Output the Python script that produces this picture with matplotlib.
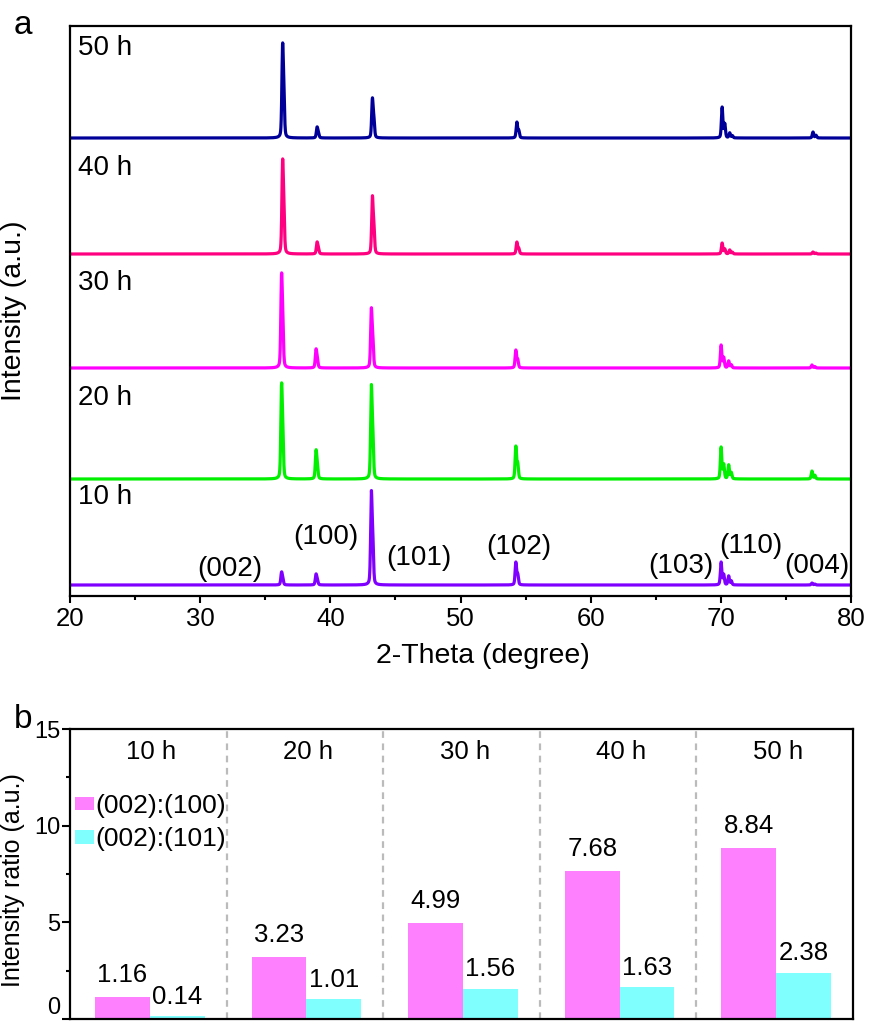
import numpy as np
import matplotlib
matplotlib.use("Agg")
import matplotlib.pyplot as plt

plt.rcParams['font.family'] = ['Liberation Sans', 'DejaVu Sans']

# ---------------- XRD patterns (panel a) ----------------
samples = ['10 h', '20 h', '30 h', '40 h', '50 h']
trace_colors = ['#8000FF', '#00F000', '#FF00FF', '#FF0080', '#000099']
reflections = ['(002)', '(100)', '(101)', '(102)', '(103)', '(110)', '(004)']
peak_pos = [36.25, 38.9, 43.15, 54.25, 70.02, 70.6, 77.0]
peak_shift = [0.0, 0.0, 0.0, 0.08, 0.08]
heights_10h = [13, 11, 94, 23, 23, 9, 2]
heights_20h = [95, 29, 94, 33, 32, 14, 8]
heights_30h = [94, 19, 60, 18, 23, 7, 3]
heights_40h = [94, 12, 58, 12, 11, 4, 2]
heights_50h = [94, 11, 40, 16, 31, 5, 6]
heights = [heights_10h, heights_20h, heights_30h, heights_40h, heights_50h]

# ---------------- intensity ratios (panel b) ----------------
ratio_002_100 = [1.16, 3.23, 4.99, 7.68, 8.84]
ratio_002_101 = [0.14, 1.01, 1.56, 1.63, 2.38]
bar_colors = ['#FF80FF', '#80FFFF']


def pseudo_voigt(x, c, fwhm=0.13, eta=0.35):
    g = np.exp(-4 * np.log(2) * (x - c) ** 2 / fwhm ** 2)
    l = 1.0 / (1 + 4 * (x - c) ** 2 / fwhm ** 2)
    return eta * l + (1 - eta) * g


def pattern(x, positions, amps):
    y = np.zeros_like(x)
    for c, h in zip(positions, amps):
        # Cu K-alpha doublet, scaled so the K-alpha1 maximum equals h
        d2 = np.degrees(2 * np.tan(np.radians(c / 2)) * 0.00248)
        norm = 1.0 + 0.45 * pseudo_voigt(c, c + d2)
        y += h / norm * (pseudo_voigt(x, c) + 0.45 * pseudo_voigt(x, c + d2))
    return y


fig = plt.figure(figsize=(8.71, 10.28), dpi=100)

W, H = 871.0, 1028.0
ax_a = fig.add_axes([70 / W, 1 - 596 / H, 781 / W, 570 / H])
ax_b = fig.add_axes([70 / W, 1 - 1019 / H, 783 / W, 290 / H])

two_theta = np.arange(20, 80.0001, 0.004)
offsets = [11, 117, 228, 342, 458]
label_y = [99, 198, 313, 428, 548]

for i, name in enumerate(samples):
    pos = [p + peak_shift[i] for p in peak_pos]
    y = pattern(two_theta, pos, heights[i]) + offsets[i]
    ax_a.plot(two_theta, y, color=trace_colors[i], lw=2.3, solid_joinstyle='round')
    ax_a.text(20.65, label_y[i], name, fontsize=20, ha='left', va='center')

hkl_xy = [(32.29, 27), (39.67, 59), (46.81, 38), (54.49, 49),
          (66.94, 30), (72.32, 50), (77.39, 30)]
for lab, (xx, yy) in zip(reflections, hkl_xy):
    ax_a.text(xx, yy, lab, fontsize=20, ha='center', va='center')

ax_a.set_xlim(20, 80)
ax_a.set_ylim(0, 570)
ax_a.set_xticks(np.arange(20, 81, 10))
ax_a.set_xticks(np.arange(25, 80, 10), minor=True)
ax_a.set_yticks([])
ax_a.tick_params(axis='x', which='major', direction='out', length=5, width=1.5,
                 labelsize=18.5, pad=3)
ax_a.tick_params(axis='x', which='minor', direction='out', length=3, width=1.5)
for s in ax_a.spines.values():
    s.set_linewidth(1.6)
ax_a.set_xlabel('2-Theta (degree)', fontsize=20.5)
ax_a.xaxis.set_label_coords(0.529, -0.083)
ax_a.set_ylabel('Intensity (a.u.)', fontsize=20.5)
ax_a.yaxis.set_label_coords(-0.055, 0.5)

# ---------------- panel b ----------------
xc = np.arange(len(samples)) + 0.51
bw = 0.35
b1 = ax_b.bar(xc - bw / 2, ratio_002_100, width=bw, color=bar_colors[0],
              label='(002):(100)')
b2 = ax_b.bar(xc + bw / 2, ratio_002_101, width=bw, color=bar_colors[1],
              label='(002):(101)')
for bars, vals, off in ((b1, ratio_002_100, 7), (b2, ratio_002_101, 5.5)):
    for r, v in zip(bars, vals):
        ax_b.annotate(f'{v:.2f}', (r.get_x() + r.get_width() / 2, v),
                      xytext=(0, off), textcoords='offset points',
                      ha='center', va='bottom', fontsize=18.5)

for k in range(1, len(samples)):
    ax_b.axvline(k, color='#BBBBBB', lw=1.6, ls=(0, (3, 2.5)), zorder=0)
for k, name in enumerate(samples):
    ax_b.text(k + 0.52, 13.8, name, fontsize=18.5, ha='center', va='center')

ax_b.set_xlim(0, 5)
ax_b.set_ylim(0, 15)
ax_b.set_xticks([])
ax_b.set_yticks([0, 5, 10, 15])
ax_b.set_yticks([2.5, 7.5, 12.5], minor=True)
ax_b.tick_params(axis='y', which='major', direction='out', length=6, width=1.5,
                 labelsize=17, pad=1)
ax_b.tick_params(axis='y', which='minor', direction='out', length=3, width=1.5)
for lbl in ax_b.get_yticklabels():
    if lbl.get_text() == '0':
        lbl.set_va('bottom')
for s in ax_b.spines.values():
    s.set_linewidth(1.6)
ax_b.set_ylabel('Intensity ratio (a.u.)', fontsize=18)
ax_b.yaxis.set_label_coords(-0.057, 0.48)

ax_b.legend(loc='upper left', bbox_to_anchor=(0.006, 0.775), frameon=False,
            fontsize=19, handlelength=0.72, handleheight=0.4, handletextpad=0.05,
            labelspacing=0.35, borderpad=0, borderaxespad=0)

fig.text(14 / W, 1 - 26 / H, 'a', fontsize=24, ha='left', va='center')
fig.text(14 / W, 1 - 720 / H, 'b', fontsize=24, ha='left', va='center')

fig.savefig('out.png', dpi=100)
